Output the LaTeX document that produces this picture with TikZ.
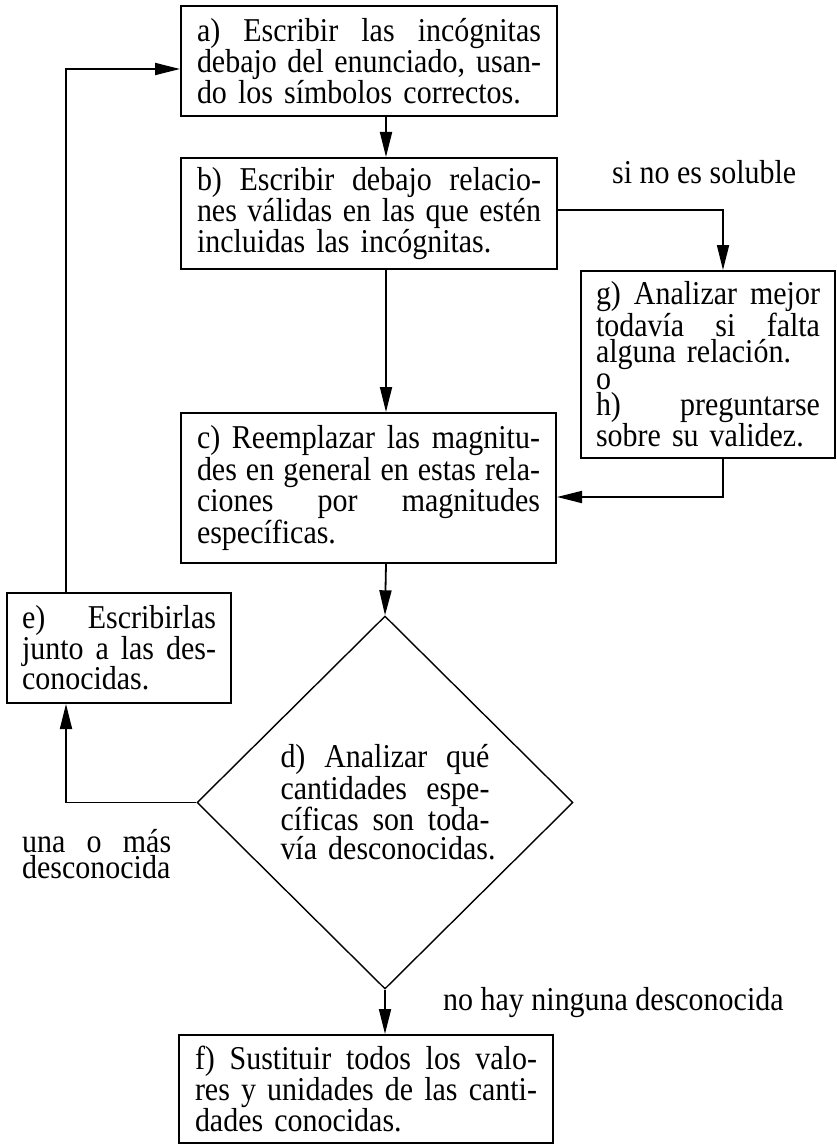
\documentclass[tikz,border=0pt]{standalone}
\usepackage{fontspec}
\setmainfont{Liberation Serif}[FakeStretch=0.9]
\usetikzlibrary{arrows.meta,shapes.geometric}
\protected\def\setsp{\spaceskip=7.5pt plus 60pt minus 1pt\relax\xspaceskip=\spaceskip\relax}
\newcommand{\jline}[1]{\hbox to \hsize{\setsp #1}\par}
\newcommand{\rline}[1]{\hbox{#1}\par}
\begin{document}
\begin{tikzpicture}[x=1pt,y=-1pt,
  box/.style={draw, line width=2pt, rectangle, inner xsep=16pt, inner ysep=0pt},
  fs/.style={font=\fontsize{33.3}{#1}\selectfont},
  lbl/.style={inner sep=0pt, font=\fontsize{33.3}{31}\selectfont},
  arr/.style={line width=1.8pt, -{Triangle[length=25pt,width=12pt]}},
  dia/.style={draw, line width=1.4pt, diamond, inner sep=0pt}]
\useasboundingbox (0,0) rectangle (837,1145);

\node[box, fs=31, minimum width=376pt, minimum height=110pt, text width=344pt] (a) at (369,61)
 {\jline{a) Escribir las incógnitas}\jline{debajo del enunciado, usan-}\rline{do los símbolos correctos.}};
\node[box, fs=31, minimum width=376pt, minimum height=111pt, text width=344pt] (b) at (369,213.5)
 {\jline{b) Escribir debajo relacio-}\jline{nes válidas en las que estén}\rline{incluidas las incógnitas.}};
\node[box, fs=29.5, minimum width=375pt, minimum height=150pt, text width=343pt] (c) at (368.5,488)
 {\jline{c) Reemplazar las magnitu-}\jline{des en general en estas rela-}\jline{ciones por magnitudes}\rline{específicas.}};
\node[box, fs=26.3, inner xsep=15pt, minimum width=254pt, minimum height=187pt, text width=224pt] (g) at (708,364.5)
 {\jline{g) Analizar mejor}\jline{todavía si falta}\rline{alguna relación.}\rline{o}\jline{h) preguntarse}\rline{sobre su validez.}};
\node[box, fs=30.5, inner xsep=15pt, minimum width=224pt, minimum height=110pt, text width=194pt] (e) at (119,648)
 {\jline{e) Escribirlas}\jline{junto a las des-}\rline{conocidas.}};
\node[dia, fs=29.3, minimum width=376pt, minimum height=373pt, text width=209pt] (d) at (385,802.5)
 {\jline{d) Analizar qué}\jline{cantidades espe-}\jline{cíficas son toda-}\rline{vía desconocidas.}};
\node[box, fs=29, minimum width=374pt, minimum height=108pt, text width=342pt] (f) at (366,1089)
 {\jline{f) Sustituir todos los valo-}\jline{res y unidades de las canti-}\rline{dades conocidas.}};

\node[lbl, anchor=base west] (l1) at (612,183) {si no es soluble};
\node[lbl, anchor=base west] (l2) at (443,1010) {no hay ninguna desconocida};
\node[lbl, fs=26, text width=149pt, anchor=base west] (l3) at (22,852)
 {\jline{una o más}\rline{desconocida}};

\coordinate (lx) at (66,0);
\coordinate (gx) at (723,0);
\coordinate (vx) at (386,0);

\draw[arr] (a.south -| vx) -- (b.north -| vx);
\draw[arr] (b.south -| vx) -- (c.north -| vx);
\draw[arr] (c.south -| vx) -- (d.north);
\draw[arr] (d.south) -- (f.north -| d.south);
\draw[arr] ([yshift=3.5pt]b.east) -| (g.north -| gx);
\draw[arr] (g.south -| gx) |- ([yshift=-9pt]c.east);
\draw[arr] (d.west) -| (e.south -| lx);
\draw[arr] (e.north -| lx) |- ([yshift=-8pt]a.west);
\end{tikzpicture}
\end{document}
